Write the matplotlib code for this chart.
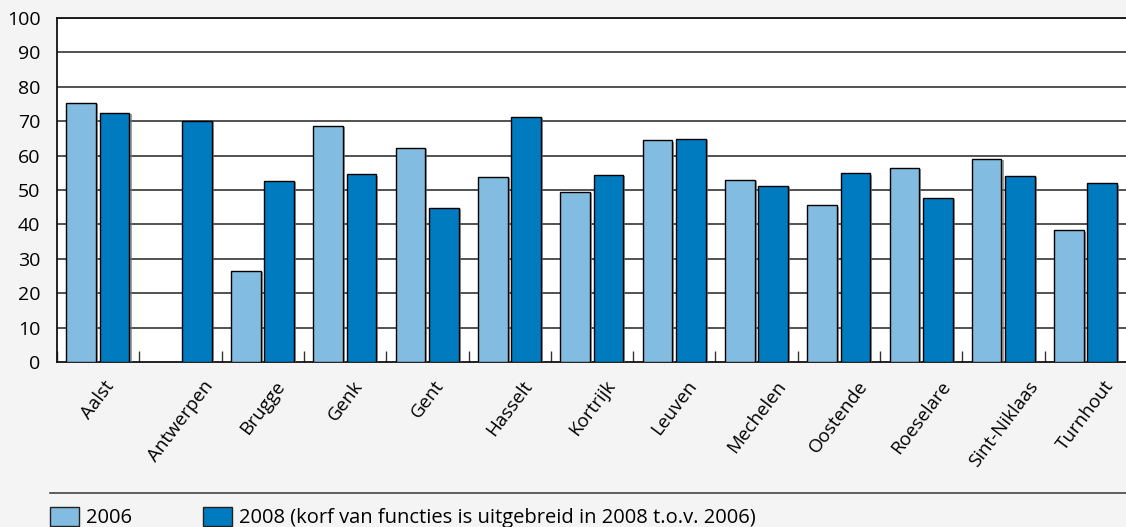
import matplotlib
matplotlib.use("Agg")
import matplotlib.pyplot as plt
import matplotlib.patheffects as pe
from matplotlib.patches import Rectangle
from matplotlib.lines import Line2D
import numpy as np

plt.rcParams["font.family"] = ["Open Sans", "DejaVu Sans"]

# data
cities = ["Aalst", "Antwerpen", "Brugge", "Genk", "Gent", "Hasselt", "Kortrijk",
          "Leuven", "Mechelen", "Oostende", "Roeselare", "Sint-Niklaas", "Turnhout"]
vals_2006 = [75.3, np.nan, 26.5, 68.6, 62.3, 53.9, 49.5, 64.5, 52.9, 45.5, 56.4, 59.0, 38.3]
vals_2008 = [72.4, 70.2, 52.6, 54.6, 44.8, 71.3, 54.4, 64.9, 51.2, 54.8, 47.7, 54.2, 52.0]
yticks = [0, 10, 20, 30, 40, 50, 60, 70, 80, 90, 100]
legend_labels = ["2006", "2008 (korf van functies is uitgebreid in 2008 t.o.v. 2006)"]

c_light = "#82bce0"
c_dark = "#007bc0"
bg = "#f4f4f4"
W, H = 1126, 527

fig = plt.figure(figsize=(W / 100, H / 100), dpi=100, facecolor=bg)
ax = fig.add_axes([57 / W, 1 - 362 / H, 1070 / W, 344 / H])
ax.set_facecolor("white")

x = np.arange(len(cities)) + 0.5
bw = 0.36
shadow = [pe.SimplePatchShadow(offset=(1.5, -1), shadow_rgbFace="#777777", alpha=0.7), pe.Normal()]
ax.bar(x - 0.205, vals_2006, bw, color=c_light, edgecolor="black", linewidth=1,
       path_effects=shadow, zorder=3)
ax.bar(x + 0.2, vals_2008, bw, color=c_dark, edgecolor="black", linewidth=1,
       path_effects=shadow, zorder=3)

ax.set_xlim(0, len(cities))
ax.set_ylim(0, 100)
ax.set_yticks(yticks)
ax.set_yticklabels([str(t) for t in yticks], fontsize=14)
ax.tick_params(axis="y", length=0, pad=12)
for t in yticks[1:]:
    ax.axhline(t, color="#333333", linewidth=1.2, zorder=1)

# category boundary ticks pointing up
ax.set_xticks(np.arange(len(cities) + 1), minor=False)
ax.set_xticklabels([])
ax.tick_params(axis="x", which="major", direction="in", length=8, width=1, color="#333333")
ax.set_xticks(x, minor=True)
ax.set_xticklabels(cities, minor=True, rotation=53, ha="center", va="top", fontsize=13.5)
ax.tick_params(axis="x", which="minor", length=0, pad=11)

for s in ["left", "bottom", "top"]:
    ax.spines[s].set_color("#111111")
    ax.spines[s].set_linewidth(1.3)
ax.spines["right"].set_visible(False)

# legend
fig.add_artist(Line2D([50 / W, 1.0], [1 - 493 / H, 1 - 493 / H], color="#444444", linewidth=1.2))
for px, col, lab, tx in [(50, c_light, legend_labels[0], 86), (203, c_dark, legend_labels[1], 239)]:
    fig.add_artist(Rectangle((px / W, 1 - 526 / H), 29 / W, 19 / H, facecolor=col,
                             edgecolor="#222222", linewidth=1, transform=fig.transFigure))
    fig.text(tx / W, 1 - 523 / H, lab, fontsize=14.5, va="baseline", ha="left")

fig.savefig("out.png", dpi=100, facecolor=bg)
